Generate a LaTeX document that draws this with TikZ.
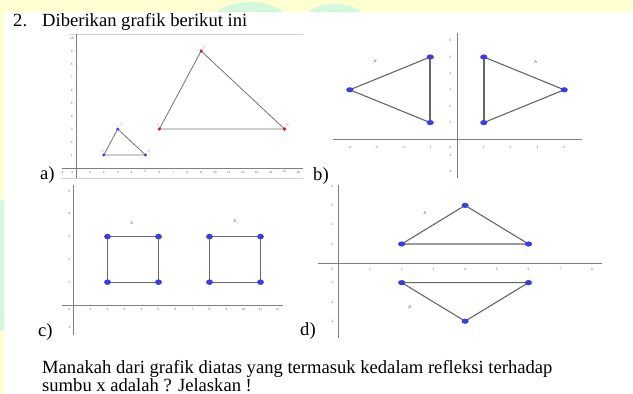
\documentclass[tikz,border=0pt]{standalone}
\usepackage{fontspec}
\setmainfont{Liberation Serif}
\setsansfont{Liberation Sans}
\usetikzlibrary{shapes.geometric}
\definecolor{bgyellow}{HTML}{FFFFD2}
\definecolor{bgmint}{HTML}{D4F8DE}
\definecolor{ptblue}{HTML}{3C3CE0}
\definecolor{ptred}{HTML}{D02020}
\tikzset{
  axisline/.style={draw=black!50, line width=0.6pt},
  frameline/.style={draw=black!18, line width=0.6pt},
  edgeline/.style={draw=black!60, line width=1.1pt},
  thinedge/.style={draw=black!55, line width=0.8pt},
  ticklab/.style={font=\sffamily\fontsize{3.2}{3.2}\selectfont, text=black!60, inner sep=0pt},
  ptlab/.style={font=\sffamily\fontsize{4}{4}\selectfont, text=black!70, inner sep=0pt},
  bodytext/.style={font=\fontsize{18.6}{21}\selectfont, inner sep=0pt, anchor=base west},
  partlab/.style={font=\fontsize{18.6}{21}\selectfont, inner sep=0pt, anchor=base west},
}
\begin{document}
\begin{tikzpicture}[x=1pt,y=-1pt]
\useasboundingbox (0,0) rectangle (633,394);
% background
\fill[bgyellow] (0,0) rectangle (633,394);
\begin{scope}
  \clip (0,0) rectangle (633,12);
  \fill[bgmint] (250,22) ellipse (38 and 20);
  \fill[bgmint] (335,22) ellipse (32 and 18);
\end{scope}
\fill[bgmint] (0,200) rectangle (4,330);
\fill[white] (4,12) rectangle (633,394);

% title
\node[bodytext] (num) at (13,26) {2.};
\node[bodytext] (title) at (42,26) {Diberikan grafik berikut ini};

% ---------------- graph a
\begin{scope}[shift={(76,168)}, x=13.9pt, y=13pt]
  \draw[frameline] (-0.43,10.3) -- (16.33,10.3);
  \draw[frameline] (-1,-0.77) -- (16.33,-0.77);
  \draw[axisline] (-1,0) -- (16.33,0);
  \draw[axisline] (0,-0.77) -- (0,10.3);
  \foreach \i in {-1,1,2,...,16} \node[ticklab] (ax\i) at (\i,-0.3) {\i};
  \node[ticklab] (ax0) at (-0.25,-0.3) {0};
  \foreach \i in {1,...,10} \node[ticklab] (ay\i) at (-0.3,\i) {\i};
  \coordinate (sA) at (2,1); \coordinate (sB) at (5,1); \coordinate (sC) at (3,3);
  \coordinate (bA) at (6,3); \coordinate (bB) at (15,3); \coordinate (bC) at (9,9);
  \draw[thinedge] (sA) -- (sB) -- (sC) -- cycle;
  \draw[thinedge] (bA) -- (bB) -- (bC) -- cycle;
  \foreach \p in {sA,sB,sC} \fill[ptblue] (\p) circle (1.6pt);
  \foreach \p in {bA,bB,bC} \fill[ptred] (\p) circle (1.8pt);
  \node[ptlab, text=ptblue!40] (lsA) at (1.9,1.3) {A};
  \node[ptlab, text=ptblue!40] (lsB) at (5.25,1.3) {B};
  \node[ptlab, text=ptblue!40] (lsC) at (3.25,3.3) {C};
  \node[ptlab, text=ptred!40] (lbA) at (5.9,3.3) {A'};
  \node[ptlab, text=ptred!40] (lbB) at (15.25,3.3) {B'};
  \node[ptlab, text=ptred!40] (lbC) at (9.25,9.3) {C'};
\end{scope}
\node[partlab] (la) at (40,179) {a)};

% ---------------- graph b
\begin{scope}[shift={(457,139)}, x=26.8pt, y=16.4pt]
  \draw[axisline] (-4.63,0) -- (4.66,0);
  \draw[axisline] (0,-2.38) -- (0,6.46);
  \foreach \i in {-4,-3,-2,-1,1,2,3,4} \node[ticklab] (bx\i) at (\i,-0.5) {\i};
  \node[ticklab] (bx0) at (-0.25,-0.5) {0};
  \foreach \i in {-2,-1,1,2,...,6} \node[ticklab] (by\i) at (-0.25,\i) {\i};
  \coordinate (pA1) at (1,5); \coordinate (pA2) at (1,1); \coordinate (pA3) at (4,3);
  \coordinate (qA1) at (-1,5); \coordinate (qA2) at (-1,1); \coordinate (qA3) at (-4,3);
  \draw[edgeline] (pA1) -- (pA3) -- (pA2);
  \draw[edgeline, line width=1.8pt] (pA1) -- (pA2);
  \draw[edgeline] (qA1) -- (qA3) -- (qA2);
  \draw[edgeline, line width=1.8pt] (qA1) -- (qA2);
  \foreach \p in {pA1,pA2,pA3,qA1,qA2,qA3} \fill[ptblue] (\p) ellipse (3.6pt and 2.6pt);
  \node[ptlab] (lbA) at (2.94,4.7) {A};
  \node[ptlab] (lbAp) at (-3.05,4.75) {A'};
\end{scope}
\node[partlab] (lb) at (313,180) {b)};

% ---------------- graph c
\begin{scope}[shift={(73.5,305)}, x=17pt, y=22.8pt]
  \draw[axisline] (-0.68,0) -- (12.34,0);
  \draw[axisline] (0,-1.32) -- (0,5.26);
  \foreach \i in {1,...,12} \node[ticklab] (cx\i) at (\i,-0.2) {\i};
  \node[ticklab] (cx0) at (-0.25,-0.2) {0};
  \foreach \i in {-1,1,2,...,5} \node[ticklab] (cy\i) at (-0.25,\i) {\i};
  \coordinate (c1) at (2,1); \coordinate (c2) at (5,1); \coordinate (c3) at (5,3); \coordinate (c4) at (2,3);
  \coordinate (d1) at (8,1); \coordinate (d2) at (11,1); \coordinate (d3) at (11,3); \coordinate (d4) at (8,3);
  \draw[edgeline] (c1) -- (c2) -- (c3) -- (c4) -- cycle;
  \draw[edgeline] (d1) -- (d2) -- (d3) -- (d4) -- cycle;
  \foreach \p in {c1,c2,c3,c4,d1,d2,d3,d4} \fill[ptblue] (\p) ellipse (3.4pt and 2.8pt);
  \node[ptlab] (lcA) at (3.42,3.58) {A};
  \node[ptlab] (lcAp) at (9.5,3.67) {A'};
\end{scope}
\node[partlab] (lc) at (38,336) {c)};

% ---------------- graph d
\begin{scope}[shift={(338.3,263.3)}, x=31.7pt, y=19.3pt]
  \draw[axisline] (-0.64,0) -- (8.32,0);
  \draw[axisline] (0,-3.87) -- (0,4.06);
  \foreach \i in {1,...,8} \node[ticklab] (dx\i) at (\i,-0.3) {\i};
  \node[ticklab] (dx0) at (-0.2,-0.3) {0};
  \foreach \i in {-3,-2,-1,1,2,3,4} \node[ticklab] (dy\i) at (-0.2,\i) {\i};
  \coordinate (e1) at (2,1); \coordinate (e2) at (6,1); \coordinate (e3) at (4,3);
  \coordinate (f1) at (2,-1); \coordinate (f2) at (6,-1); \coordinate (f3) at (4,-3);
  \draw[edgeline] (e1) -- (e2) -- (e3) -- cycle;
  \draw[edgeline] (f1) -- (f2) -- (f3) -- cycle;
  \foreach \p in {e1,e2,e3,f1,f2,f3} \fill[ptblue] (\p) ellipse (3.6pt and 2.6pt);
  \node[ptlab] (ldA) at (2.73,2.62) {A};
  \node[ptlab] (ldAp) at (2.26,-2.25) {A'};
\end{scope}
\node[partlab] (ld) at (300,335) {d)};

% question
\node[bodytext] (q1) at (42,373) {Manakah dari grafik diatas yang termasuk kedalam refleksi terhadap};
\node[bodytext] (q2) at (42,391) {sumbu x adalah ? Jelaskan !};
\end{tikzpicture}
\end{document}
